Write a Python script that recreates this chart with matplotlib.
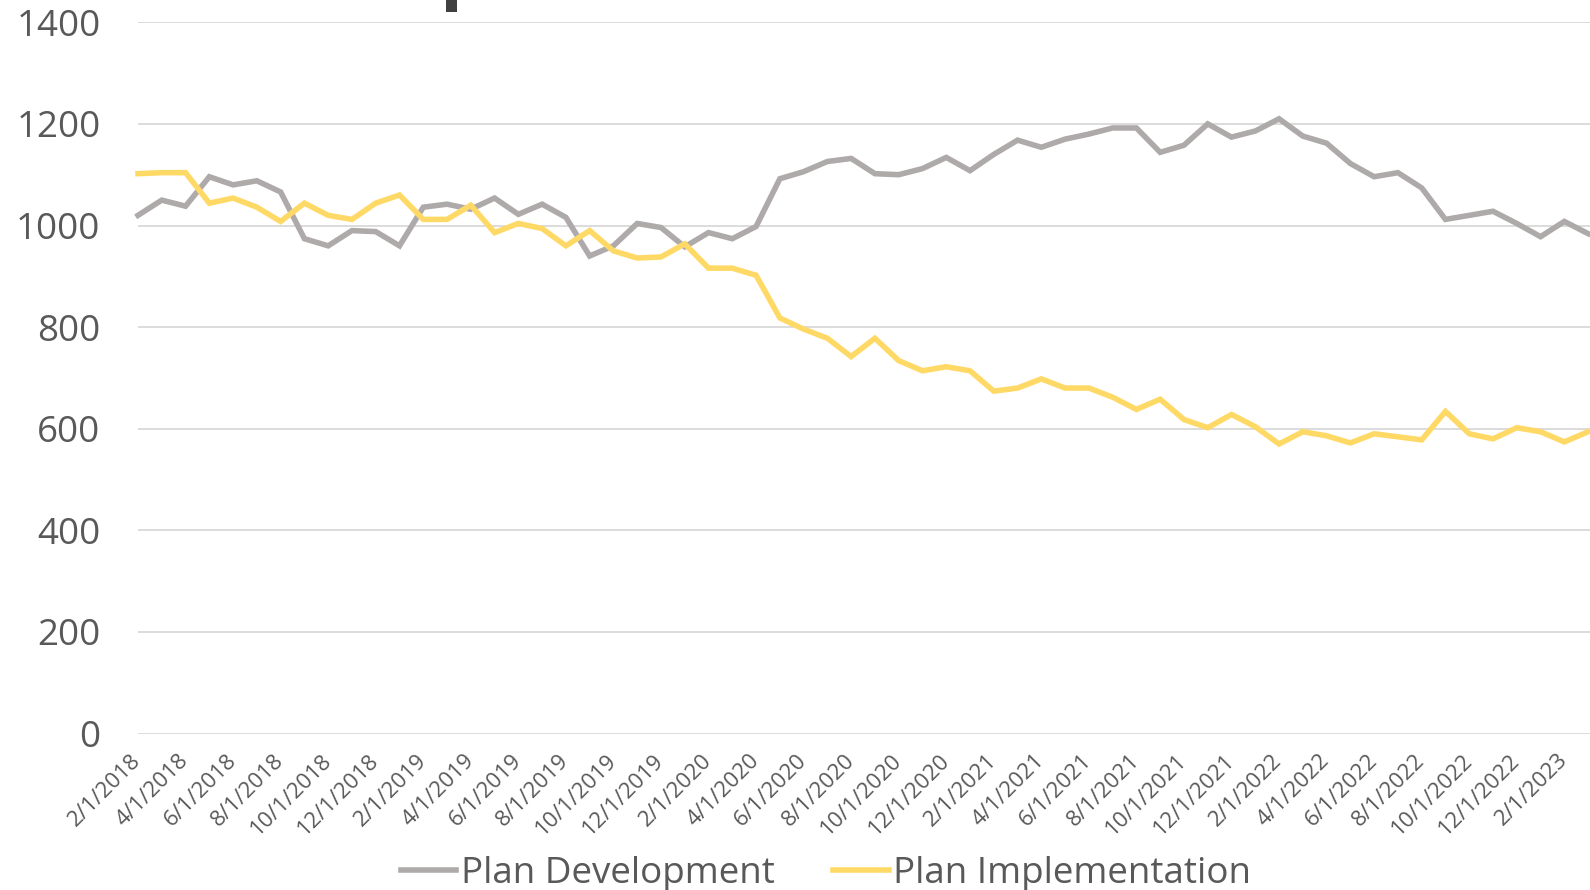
import matplotlib
matplotlib.use("Agg")
import matplotlib.pyplot as plt
import matplotlib.patches as patches

# monthly values, 2/1/2018 .. 3/1/2023
months = ["2/1/2018", "3/1/2018", "4/1/2018", "5/1/2018", "6/1/2018", "7/1/2018",
          "8/1/2018", "9/1/2018", "10/1/2018", "11/1/2018", "12/1/2018",
          "1/1/2019", "2/1/2019", "3/1/2019", "4/1/2019", "5/1/2019", "6/1/2019",
          "7/1/2019", "8/1/2019", "9/1/2019", "10/1/2019", "11/1/2019", "12/1/2019",
          "1/1/2020", "2/1/2020", "3/1/2020", "4/1/2020", "5/1/2020", "6/1/2020",
          "7/1/2020", "8/1/2020", "9/1/2020", "10/1/2020", "11/1/2020", "12/1/2020",
          "1/1/2021", "2/1/2021", "3/1/2021", "4/1/2021", "5/1/2021", "6/1/2021",
          "7/1/2021", "8/1/2021", "9/1/2021", "10/1/2021", "11/1/2021", "12/1/2021",
          "1/1/2022", "2/1/2022", "3/1/2022", "4/1/2022", "5/1/2022", "6/1/2022",
          "7/1/2022", "8/1/2022", "9/1/2022", "10/1/2022", "11/1/2022", "12/1/2022",
          "1/1/2023", "2/1/2023", "3/1/2023"]

plan_development = [1020, 1050, 1038, 1096, 1080, 1088, 1066, 974, 960, 990, 988,
                    960, 1036, 1042, 1032, 1054, 1022, 1042, 1016, 940, 960, 1004, 996,
                    958, 986, 974, 998, 1092, 1106, 1126, 1132, 1102, 1100, 1112, 1134,
                    1108, 1140, 1168, 1154, 1170, 1180, 1192, 1192, 1144, 1158, 1200, 1174,
                    1186, 1210, 1176, 1162, 1122, 1096, 1104, 1074, 1012, 1020, 1028, 1004,
                    978, 1008, 984]

plan_implementation = [1102, 1104, 1104, 1044, 1054, 1036, 1008, 1044, 1020, 1012, 1044,
                       1060, 1012, 1012, 1040, 986, 1004, 994, 960, 990, 950, 936, 938,
                       964, 916, 916, 902, 818, 796, 778, 742, 778, 734, 714, 722,
                       714, 674, 680, 698, 680, 680, 662, 638, 658, 618, 602, 628,
                       604, 570, 594, 586, 572, 590, 584, 578, 634, 590, 580, 602,
                       594, 574, 594]

y_ticks = [0, 200, 400, 600, 800, 1000, 1200, 1400]

W, H = 1590, 890
fig = plt.figure(figsize=(W / 100, H / 100), dpi=100)
ax = fig.add_axes([138 / W, 1 - 733.5 / H, 1 - 138 / W, (733.5 - 22.3) / H])

x = list(range(len(months)))
ax.plot(x, plan_development, color="#AEAAAA", linewidth=4,
        solid_joinstyle="miter", label="Plan Development", clip_on=False)
ax.plot(x, plan_implementation, color="#FFD966", linewidth=4,
        solid_joinstyle="miter", label="Plan Implementation", clip_on=False)

ax.set_xlim(0, len(months) - 1 + 0.08)
ax.set_ylim(0, 1400)
ax.set_yticks(y_ticks)
ax.set_yticklabels([str(v) for v in y_ticks], fontsize=26.5, color="#595959",
                   family="Open Sans")
ax.grid(axis="y", color="#D9D9D9", linewidth=1.3)
ax.set_axisbelow(True)
ax.tick_params(axis="y", length=0, pad=27)

ax.set_xticks(x[::2])
ax.set_xticklabels(months[::2], rotation=45, ha="right", va="center",
                   rotation_mode="anchor", fontsize=16, color="#595959",
                   family="Open Sans")
ax.tick_params(axis="x", length=0, pad=17)

for s in ax.spines.values():
    s.set_visible(False)

# fragment of the cut-off title at the top
fig.patches.append(patches.Rectangle((446 / W, 1 - 11.5 / H), 11 / W, 11.5 / H,
                                     transform=fig.transFigure,
                                     facecolor="#404040", edgecolor="none"))

leg = fig.legend(loc="center", bbox_to_anchor=(826 / W, 1 - 874 / H), ncol=2,
                 frameon=False, prop={"family": "Open Sans", "size": 26.5},
                 labelcolor="#595959", handlelength=1.5, handletextpad=0.12,
                 columnspacing=1.6, borderpad=0)

fig.savefig("out.png", dpi=100)
